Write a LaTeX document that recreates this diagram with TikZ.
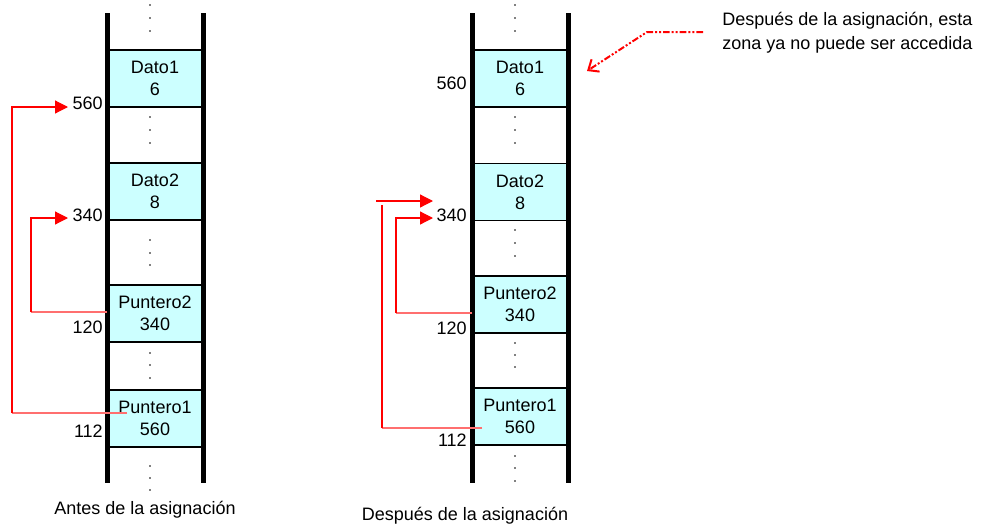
\documentclass[tikz,border=0pt]{standalone}
\usepackage{fontspec}
\setmainfont{Liberation Sans}
\usetikzlibrary{arrows.meta}
\definecolor{cellc}{HTML}{CCFFFF}
\definecolor{ptrred}{HTML}{FF0000}
\definecolor{ptrpink}{HTML}{FF6F6F}
\begin{document}
\begin{tikzpicture}[x=0.75pt,y=-0.75pt,
  memcell/.style={draw=black, line width=1.1pt, fill=cellc, minimum width=72pt, minimum height=42.75pt, inner sep=0pt, align=center, font=\fontsize{13.5pt}{16.5pt}\selectfont},
  rail/.style={line width=3.75pt, black},
  addr/.style={anchor=east, inner sep=0pt, font=\fontsize{13.5pt}{16pt}\selectfont},
  caption/.style={inner sep=0pt, font=\fontsize{13.5pt}{16pt}\selectfont},
  ptrline/.style={draw=ptrpink, line width=0.9pt},
  ptrvert/.style={draw=ptrred, line width=0.9pt},
  ptrarrow/.style={draw=ptrred, line width=0.9pt, -{Triangle[length=9.75pt,width=9.75pt]}},
  lostarrow/.style={draw=ptrred, line width=1.5pt, dash pattern=on 5pt off 1.5pt on 1.5pt off 1.5pt on 1.5pt off 1.5pt, -{Straight Barb[length=6.5pt,width=11pt,line width=1.5pt]}},
  memdot/.style={fill=black}
]
\useasboundingbox (0,0) rectangle (989,525);

% ---------- left column ----------
\node[memcell] (L1) at (155,78.5) {Dato1\\6};
\node[memcell] (L2) at (155,191.5) {Dato2\\8};
\node[memcell] (L3) at (155,313.5) {Puntero2\\340};
\node[memcell] (L4) at (155,418.5) {Puntero1\\560};
\draw[rail] (107,13) -- (107,483);
\draw[rail] (203,13) -- (203,483);
\foreach \yy in {5,18,31,117,130,143,240,253,265,353,365,378,466,478,490}
  \fill[memdot] (150,\yy) circle[radius=0.6pt];
\node[addr] (La) at (103,103) {560};
\node[addr] (Lb) at (103,215) {340};
\node[addr] (Lc) at (103,327) {120};
\node[addr] (Ld) at (103,431) {112};

\coordinate (lp1s) at (127,413);
\coordinate (lp1c) at (12,413);
\coordinate (lp1t) at (68,107);
\coordinate (lp2s) at (107,312);
\coordinate (lp2c) at (31,312);
\coordinate (lp2t) at (68,218);
\draw[ptrline] (lp1s) -- (lp1c);
\draw[ptrarrow] (lp1c) |- (lp1t);
\draw[ptrline] (lp2s) -- (lp2c);
\draw[ptrarrow] (lp2c) |- (lp2t);

\node[caption] (Lcap) at (145,510) {Antes de la asignación};

% ---------- right column ----------
\node[memcell] (R1) at (520,78.5) {Dato1\\6};
\node[memcell] (R2) at (520,192) {Dato2\\8};
\node[memcell] (R3) at (520,304.5) {Puntero2\\340};
\node[memcell] (R4) at (520,416.5) {Puntero1\\560};
\draw[rail] (472,13) -- (472,483);
\draw[rail] (568,13) -- (568,483);
\foreach \yy in {5,18,31,117,130,143,230,243,256,343,355,367,456,468,481}
  \fill[memdot] (515,\yy) circle[radius=0.6pt];
\node[addr] (Ra) at (467,83) {560};
\node[addr] (Rb) at (467,215) {340};
\node[addr] (Rc) at (467,328) {120};
\node[addr] (Rd) at (467,440) {112};

\coordinate (rp1s) at (482,428);
\coordinate (rp1c) at (382,428);
\coordinate (rp1e) at (382,205);
\coordinate (rp1a) at (376,201);
\coordinate (rp1t) at (433,201);
\coordinate (rp2s) at (472,313);
\coordinate (rp2c) at (396,313);
\coordinate (rp2t) at (433,218);
\draw[ptrline] (rp1s) -- (rp1c);
\draw[ptrvert] (rp1c) -- (rp1e);
\draw[ptrarrow] (rp1a) -- (rp1t);
\draw[ptrline] (rp2s) -- (rp2c);
\draw[ptrarrow] (rp2c) |- (rp2t);

\node[caption] (Rcap) at (465,516) {Después de la asignación};

% ---------- note ----------
\node[anchor=west, inner sep=0pt, align=left, font=\fontsize{13.5pt}{18pt}\selectfont] (note) at (722,33) {Después de la asignación, esta\\zona ya no puede ser accedida};
\coordinate (n1) at (703,32);
\coordinate (n2) at (647,32);
\coordinate (n3) at (587,71);
\draw[lostarrow] (n1) -- (n2) -- (n3);
\end{tikzpicture}
\end{document}
